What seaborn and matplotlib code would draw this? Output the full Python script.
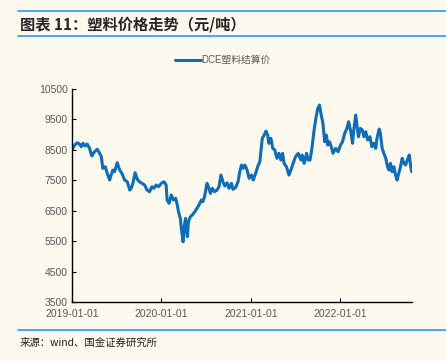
import matplotlib
matplotlib.use("Agg")
import matplotlib.pyplot as plt
import matplotlib.dates as mdates
from matplotlib.lines import Line2D
import pandas as pd
import seaborn as sns

# DCE plastic settlement price, yuan/ton
dates = [
    "2019-01-02", "2019-01-12", "2019-01-22", "2019-02-01", "2019-02-08", "2019-02-15",
    "2019-02-24", "2019-03-04", "2019-03-14", "2019-03-23", "2019-04-03", "2019-04-14",
    "2019-04-24", "2019-05-01", "2019-05-07", "2019-05-17", "2019-05-25", "2019-06-04",
    "2019-06-10", "2019-06-17", "2019-06-24", "2019-07-05", "2019-07-15", "2019-07-24",
    "2019-08-04", "2019-08-15", "2019-08-25", "2019-08-31", "2019-09-07", "2019-09-16",
    "2019-09-25", "2019-10-04", "2019-10-14", "2019-10-25", "2019-11-04", "2019-11-14",
    "2019-11-24", "2019-12-02", "2019-12-11", "2019-12-21", "2020-01-01", "2020-01-12",
    "2020-01-21", "2020-01-25", "2020-02-02", "2020-02-11", "2020-02-20", "2020-02-29",
    "2020-03-05", "2020-03-13", "2020-03-19", "2020-03-24", "2020-03-30", "2020-04-04",
    "2020-04-09", "2020-04-13", "2020-04-17", "2020-04-21", "2020-04-29", "2020-05-07",
    "2020-05-17", "2020-05-26", "2020-06-03", "2020-06-13", "2020-06-19", "2020-06-26",
    "2020-07-06", "2020-07-14", "2020-07-20", "2020-07-28", "2020-08-06", "2020-08-16",
    "2020-08-24", "2020-09-01", "2020-09-09", "2020-09-17", "2020-09-26", "2020-10-04",
    "2020-10-14", "2020-10-20", "2020-10-31", "2020-11-10", "2020-11-17", "2020-11-24",
    "2020-12-01", "2020-12-08", "2020-12-17", "2020-12-25", "2021-01-04", "2021-01-11",
    "2021-01-21", "2021-01-29", "2021-02-07", "2021-02-17", "2021-02-25", "2021-03-04",
    "2021-03-11", "2021-03-16", "2021-03-24", "2021-04-01", "2021-04-09", "2021-04-18",
    "2021-04-26", "2021-05-04", "2021-05-11", "2021-05-17", "2021-05-27", "2021-06-06",
    "2021-06-14", "2021-06-23", "2021-07-03", "2021-07-14", "2021-07-25", "2021-07-30",
    "2021-08-07", "2021-08-17", "2021-08-23", "2021-08-31", "2021-09-08", "2021-09-16",
    "2021-09-24", "2021-10-02", "2021-10-09", "2021-10-16", "2021-10-23", "2021-10-30",
    "2021-11-06", "2021-11-12", "2021-11-19", "2021-11-26", "2021-12-03", "2021-12-14",
    "2021-12-24", "2022-01-03", "2022-01-11", "2022-01-20", "2022-01-29", "2022-02-05",
    "2022-02-14", "2022-02-21", "2022-02-26", "2022-03-06", "2022-03-11", "2022-03-17",
    "2022-03-25", "2022-04-02", "2022-04-09", "2022-04-16", "2022-04-24", "2022-05-03",
    "2022-05-11", "2022-05-19", "2022-05-27", "2022-06-01", "2022-06-10", "2022-06-15",
    "2022-06-22", "2022-06-29", "2022-07-07", "2022-07-14", "2022-07-20", "2022-07-26",
    "2022-08-02", "2022-08-09", "2022-08-16", "2022-08-22", "2022-08-29", "2022-09-05",
    "2022-09-12", "2022-09-19", "2022-09-26", "2022-10-03", "2022-10-11", "2022-10-17",
    "2022-10-21",
]
price = [
    8518, 8659, 8735, 8692, 8604, 8715,
    8626, 8692, 8550, 8298, 8440, 8518,
    8387, 8276, 7893, 7946, 7729, 7509,
    7673, 7837, 7782, 8078, 7837, 7729,
    7509, 7453, 7180, 7236, 7400, 7749,
    7531, 7453, 7400, 7345, 7180, 7125,
    7290, 7236, 7345, 7290, 7400, 7453,
    7345, 6852, 6743, 7016, 6852, 6907,
    6743, 6414, 6250, 5866, 5481, 5974,
    6250, 5866, 5646, 6139, 6303, 6359,
    6467, 6578, 6688, 6852, 6797, 6962,
    7400, 7236, 7071, 7236, 7125, 7180,
    7290, 7673, 7453, 7312, 7420, 7236,
    7400, 7203, 7268, 7453, 7782, 8002,
    7893, 8002, 7837, 7565, 7673, 7509,
    7729, 7946, 8111, 8879, 8988, 9119,
    8988, 8715, 8879, 8550, 8496, 8222,
    8387, 8167, 8387, 8057, 7946, 7673,
    7837, 8057, 8276, 8387, 8167, 8331,
    8057, 8387, 8167, 8167, 8550, 9096,
    9536, 9864, 9974, 9645, 9372, 8767,
    8988, 8659, 8767, 8604, 8387, 8550,
    8440, 8659, 8767, 9042, 9207, 9426,
    9096, 8715, 9152, 9645, 9317, 8932,
    9207, 9152, 8932, 9096, 8823, 8932,
    8604, 8715, 8550, 8879, 9185, 9042,
    8550, 8387, 8222, 7946, 7837, 8057,
    7782, 7946, 7673, 7509, 7729, 7946,
    8222, 8057, 8002, 8167, 8331, 7946,
    7782,
]
yticks = [3500, 4500, 5500, 6500, 7500, 8500, 9500, 10500]
xticks = ["2019-01-01", "2020-01-01", "2021-01-01", "2022-01-01"]

df = pd.DataFrame({"date": pd.to_datetime(dates), "price": price})

bg = "#FDF9EF"
blue = "#0E6DB8"
rule = "#1CA5E6"
grey = "#595959"

sns.set_theme(style="ticks")
plt.rcParams["font.family"] = ["Liberation Sans", "Noto Sans CJK SC", "DejaVu Sans"]

fig = plt.figure(figsize=(4.46, 3.61), dpi=100, facecolor=bg)
ax = fig.add_axes([0.1614, 0.1634, 0.7623, 0.590])
ax.set_facecolor(bg)

sns.lineplot(data=df, x="date", y="price", ax=ax, color=blue, linewidth=2.2, label="DCE塑料结算价")

ax.set_ylim(3500, 10500)
ax.set_yticks(yticks)
ax.set_xlim(pd.Timestamp("2019-01-01"), pd.Timestamp("2022-10-22"))
ax.set_xticks(pd.to_datetime(xticks))
ax.xaxis.set_major_formatter(mdates.DateFormatter("%Y-%m-%d"))
ax.set_xlabel("")
ax.set_ylabel("")
ax.tick_params(axis="both", direction="in", length=3, width=0.8, labelsize=7.5,
               labelcolor=grey, color="black")
ax.tick_params(axis="x", pad=5)
ax.tick_params(axis="y", pad=3)
sns.despine(ax=ax)
for s in ["left", "bottom"]:
    ax.spines[s].set_color("black")
    ax.spines[s].set_linewidth(1.0)

leg = ax.legend(loc="center", bbox_to_anchor=(0.5, 0.833), bbox_transform=fig.transFigure,
                frameon=False, fontsize=7, handlelength=2.6, handletextpad=0.1)
for t in leg.get_texts():
    t.set_color(grey)

# header and footer
fig.add_artist(Line2D([0.04, 1.0], [1 - 11 / 361, 1 - 11 / 361], color=rule, lw=1.2))
fig.add_artist(Line2D([0.04, 1.0], [1 - 36 / 361, 1 - 36 / 361], color=rule, lw=1.2))
fig.add_artist(Line2D([0.04, 1.0], [1 - 330 / 361, 1 - 330 / 361], color=rule, lw=1.2))
fig.text(0.045, 1 - 24 / 361, "图表 11：塑料价格走势（元/吨）", fontsize=11, fontweight="bold",
         va="center", ha="left", family=["Noto Sans CJK SC", "DejaVu Sans"])
fig.text(0.045, 1 - 343 / 361, "来源：wind、国金证券研究所", fontsize=7.5, color="#222222",
         va="center", ha="left", family=["Noto Sans CJK SC", "DejaVu Sans"])

fig.savefig("out.png", dpi=100, facecolor=bg)
